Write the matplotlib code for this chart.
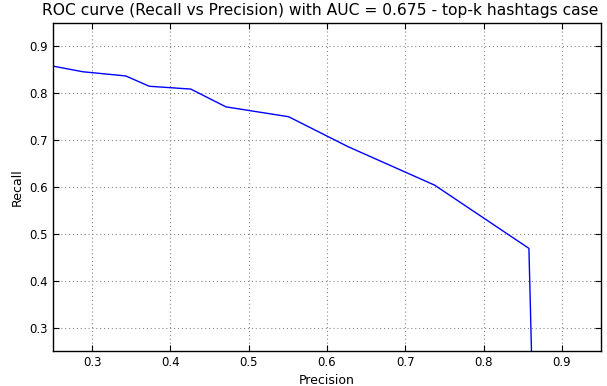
import matplotlib
matplotlib.use("Agg")
import matplotlib.pyplot as plt

# precision / recall
precision = [0.25, 0.288, 0.343, 0.373, 0.426, 0.471, 0.551, 0.627, 0.7375, 0.858, 0.865]
recall = [0.858, 0.846, 0.837, 0.815, 0.809, 0.771, 0.750, 0.686, 0.604, 0.469, 0.0]
auc = 0.675

fig = plt.figure(figsize=(6.07, 3.86), dpi=100)
ax = fig.add_axes([0.0873, 0.0907, 0.9027, 0.8497])
ax.plot(precision, recall, color="blue", linewidth=1.0)
ax.set_xlim(0.25, 0.95)
ax.set_ylim(0.25, 0.95)
ax.set_xticks([0.3, 0.4, 0.5, 0.6, 0.7, 0.8, 0.9])
ax.set_yticks([0.3, 0.4, 0.5, 0.6, 0.7, 0.8, 0.9])
ax.grid(True, color="#888888", linestyle=(0, (1, 2.5)), linewidth=0.8)
ax.tick_params(direction="in", top=True, right=True, labelsize=8.5, length=4)
for s in ax.spines.values():
    s.set_linewidth(1.0)
ax.set_xlabel("Precision", fontsize=9)
ax.set_ylabel("Recall", fontsize=9)
ax.set_title("ROC curve (Recall vs Precision) with AUC = " + str(auc) + " - top-k hashtags case", fontsize=11.2, x=0.487)
fig.savefig("out.png", dpi=100)
